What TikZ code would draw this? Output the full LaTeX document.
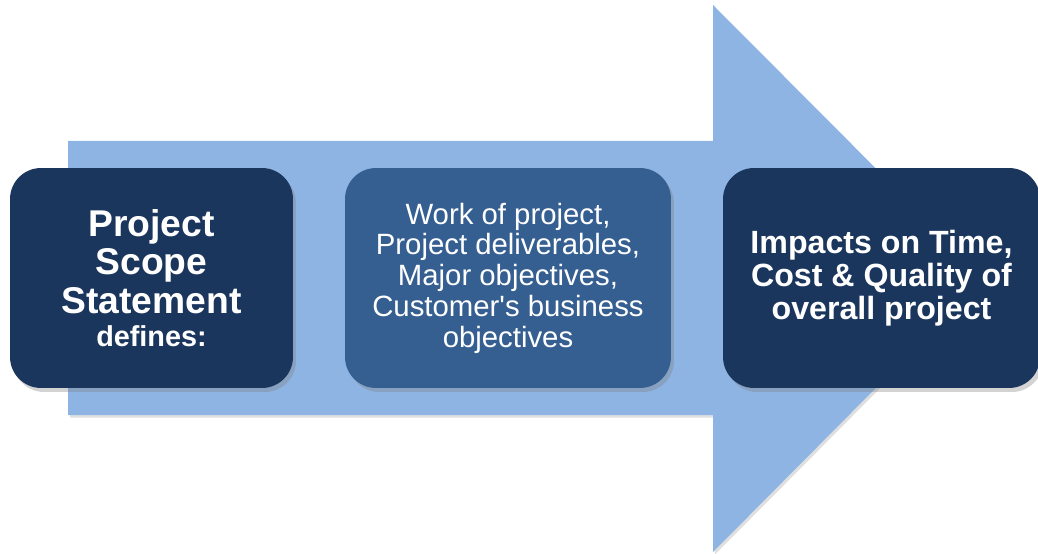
\documentclass[tikz,border=0pt]{standalone}
\usepackage{fontspec}
\setmainfont{Liberation Sans}
\usetikzlibrary{shadows}
\definecolor{arrowblue}{RGB}{142,180,227}
\definecolor{navy}{RGB}{27,54,93}
\definecolor{midblue}{RGB}{54,95,145}
\tikzset{
  stepbox/.style={rounded corners=0.62cm, fill=navy, text=white, align=center,
    minimum height=4.4cm, inner sep=2pt,
    drop shadow={opacity=0.35, shadow xshift=0.06cm, shadow yshift=-0.08cm}},
}
\begin{document}
\begin{tikzpicture}[x=0.02cm, y=-0.02cm]
    \useasboundingbox (0,0) rectangle (1038,554);

    % big arrow in the back
    \fill[arrowblue, drop shadow={opacity=0.25, shadow xshift=0.04cm, shadow yshift=-0.05cm}]
      (68,141) -- (713,141) -- (713,5) -- (985,278) -- (713,552) -- (713,415) -- (68,415) -- cycle;

    \node[stepbox, minimum width=5.66cm, font=\fontsize{21.2}{22}\selectfont\bfseries] (scope) at (151.5,278)
      {Project\\Scope\\Statement\\[-3pt]{\fontsize{16.4}{17}\selectfont defines:}};
    \node[stepbox, fill=midblue, minimum width=6.52cm, font=\fontsize{16.7}{17.5}\selectfont] (work) at (508,278)
      {Work of project,\\Project deliverables,\\Major objectives,\\Customer\textquotesingle s business\\objectives};
    \node[stepbox, minimum width=6.34cm, font=\fontsize{18.3}{18.8}\selectfont\bfseries] (impact) at (881.5,278)
      {Impacts on Time,\\Cost \& Quality of\\overall project};
\end{tikzpicture}
\end{document}
